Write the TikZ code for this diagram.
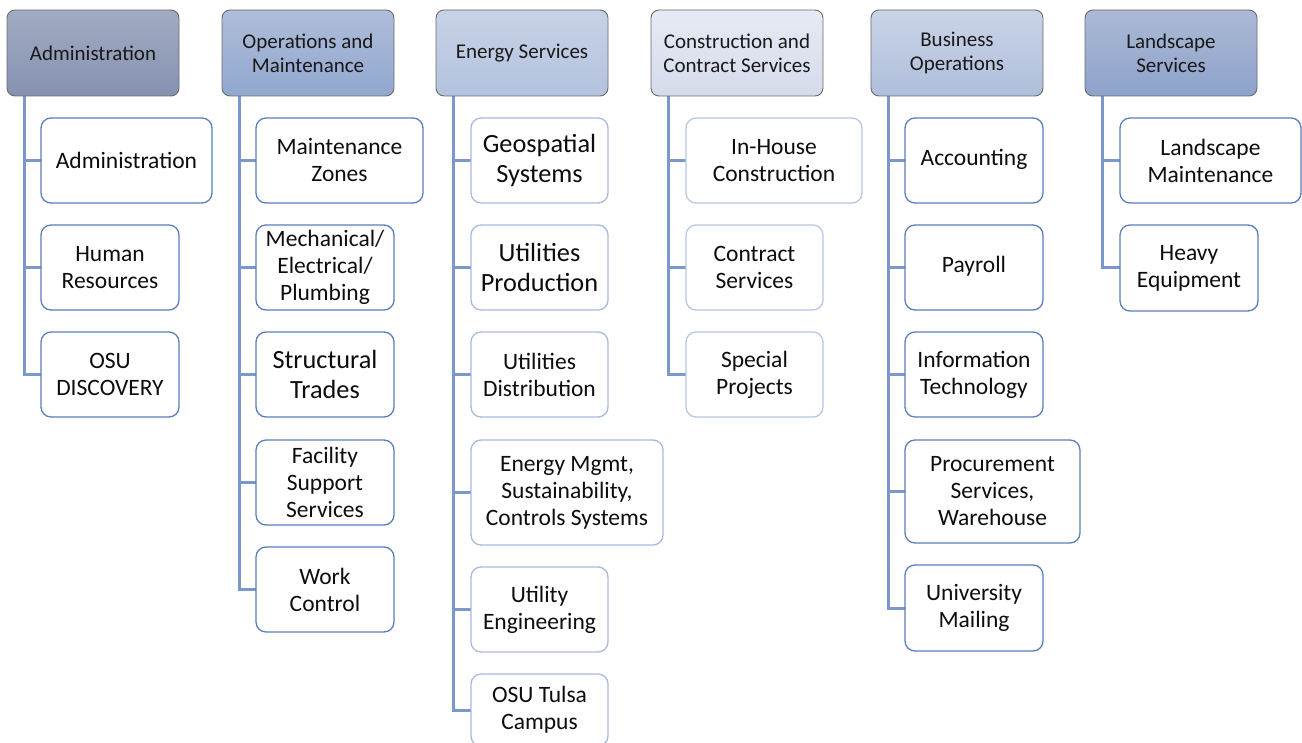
\documentclass[tikz,border=0pt]{standalone}
\usepackage{fontspec}
\setmainfont{Carlito}
\usetikzlibrary{backgrounds}
\definecolor{hdrline}{HTML}{6A6A6A}
\definecolor{connc}{HTML}{7B98CA}
\definecolor{kidA}{HTML}{5A7DBD}
\definecolor{kidB}{HTML}{A6BADF}
\definecolor{kidC}{HTML}{B8C7E5}
\definecolor{adT}{HTML}{A3ABC2}\definecolor{adB}{HTML}{8492B1}
\definecolor{opT}{HTML}{AFBDD9}\definecolor{opB}{HTML}{90A7CF}
\definecolor{enT}{HTML}{C8D2E6}\definecolor{enB}{HTML}{B3C2DE}
\definecolor{coT}{HTML}{E7EAF3}\definecolor{coB}{HTML}{D5DBEC}
\definecolor{buT}{HTML}{CAD4E7}\definecolor{buB}{HTML}{AFBEDB}
\definecolor{laT}{HTML}{ACB9D4}\definecolor{laB}{HTML}{8DA2CB}
\newcommand\placebox[6]{\node[#1, minimum width={(#5-#3)*1pt}, minimum height={(#6-#4)*1pt}] (#2) at ({(#3+#5)/2},{(#4+#6)/2})}
\begin{document}
\begin{tikzpicture}[x=1pt,y=-1pt,
  hdr/.style={draw=hdrline, line width=0.9pt, rounded corners=8pt, inner sep=0pt, outer sep=0pt, align=center, font=\fontsize{21}{24}\selectfont, text=black!90},
  kid/.style={draw=#1, fill=white, line width=1.3pt, rounded corners=10pt, inner sep=0pt, outer sep=0pt, align=center, font=\fontsize{23.5}{27}\selectfont, text=black!95},
  big/.style={font=\fontsize{26.3}{29.5}\selectfont},
  conn/.style={draw=connc, line width=3pt}]
\useasboundingbox (0,0) rectangle (1302,743);
\clip (0,0) rectangle (1302,743);
% headers
\placebox{hdr, top color=adT, bottom color=adB}{A}{7}{10}{179}{96}{Administration};
\placebox{hdr, top color=opT, bottom color=opB}{B}{222}{10}{394}{96}{Operations and\\Maintenance};
\placebox{hdr, top color=enT, bottom color=enB}{C}{436}{10}{608}{96}{Energy Services};
\placebox{hdr, top color=coT, bottom color=coB}{D}{651}{10}{823}{96}{Construction and\\Contract Services};
\placebox{hdr, top color=buT, bottom color=buB}{E}{871}{10}{1043}{96}{Business\\Operations};
\placebox{hdr, top color=laT, bottom color=laB}{F}{1085}{10}{1257}{96}{Landscape\\Services};
% column 1
\placebox{kid=kidA}{a1}{41}{118}{212}{203}{Administration};
\placebox{kid=kidA}{a2}{41}{225}{179}{310}{Human\\Resources};
\placebox{kid=kidA}{a3}{41}{332}{179}{417}{OSU\\DISCOVERY};
% column 2
\placebox{kid=kidA}{b1}{256}{118}{423}{203}{Maintenance\\Zones};
\placebox{kid=kidA}{b2}{256}{225}{394}{310}{Mechanical/\\Electrical/\\Plumbing};
\placebox{kid=kidA, big}{b3}{256}{332}{394}{417}{Structural\\Trades};
\placebox{kid=kidA}{b4}{256}{440}{394}{525}{Facility\\Support\\Services};
\placebox{kid=kidA}{b5}{256}{547}{394}{632}{Work\\Control};
% column 3
\placebox{kid=kidB, big}{c1}{471}{118}{608}{203}{Geospatial\\Systems};
\placebox{kid=kidB, big}{c2}{471}{225}{608}{310}{Utilities\\Production};
\placebox{kid=kidB}{c3}{471}{332}{608}{417}{Utilities\\Distribution};
\placebox{kid=kidB}{c4}{471}{440}{663}{545}{Energy Mgmt,\\Sustainability,\\Controls Systems};
\placebox{kid=kidB}{c5}{471}{567}{608}{652}{Utility\\Engineering};
\placebox{kid=kidB}{c6}{471}{674}{608}{746}{OSU Tulsa\\Campus};
% column 4
\placebox{kid=kidC}{d1}{686}{118}{862}{203}{In-House\\Construction};
\placebox{kid=kidC}{d2}{686}{225}{823}{310}{Contract\\Services};
\placebox{kid=kidC}{d3}{686}{332}{823}{417}{Special\\Projects};
% column 5
\placebox{kid=kidA}{e1}{905}{118}{1043}{203}{\strut Accounting};
\placebox{kid=kidA}{e2}{905}{225}{1043}{310}{\strut Payroll};
\placebox{kid=kidA}{e3}{905}{332}{1043}{417}{Information\\Technology};
\placebox{kid=kidA}{e4}{905}{440}{1080}{543}{Procurement\\Services,\\Warehouse};
\placebox{kid=kidA}{e5}{905}{565}{1043}{651}{University\\Mailing};
% column 6
\placebox{kid=kidA}{f1}{1120}{118}{1301}{203}{Landscape\\Maintenance};
\placebox{kid=kidA}{f2}{1120}{225}{1258}{311}{Heavy\\Equipment};
% connectors
\begin{scope}[on background layer]
\fill[white] (0,0) rectangle (1302,743);
\foreach \k in {a1,a2,a3} \draw[conn] ([xshift=17pt]A.south west) |- (\k.west);
\foreach \k in {b1,b2,b3,b4,b5} \draw[conn] ([xshift=17pt]B.south west) |- (\k.west);
\foreach \k in {c1,c2,c3,c4,c5,c6} \draw[conn] ([xshift=17pt]C.south west) |- (\k.west);
\foreach \k in {d1,d2,d3} \draw[conn] ([xshift=17pt]D.south west) |- (\k.west);
\foreach \k in {e1,e2,e3,e4,e5} \draw[conn] ([xshift=17pt]E.south west) |- (\k.west);
\foreach \k in {f1,f2} \draw[conn] ([xshift=17pt]F.south west) |- (\k.west);
\end{scope}
\end{tikzpicture}
\end{document}
